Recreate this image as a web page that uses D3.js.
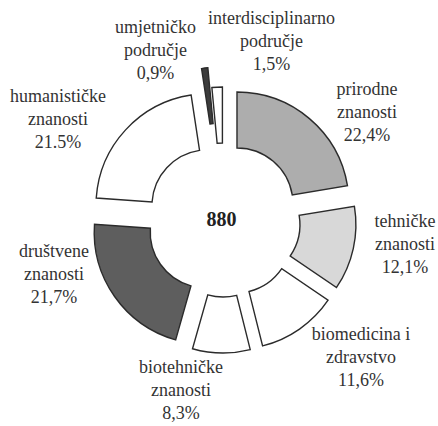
<!DOCTYPE html>
<html><head><meta charset="utf-8">
<script src="https://cdn.jsdelivr.net/npm/d3@7/dist/d3.min.js"></script></head>
<body style="margin:0">
<svg id="s" width="438" height="426"></svg>
<script>
// Fields of science, share of total (%), clockwise from 12 o'clock
const categories = [
  "prirodne znanosti",
  "tehničke znanosti",
  "biomedicina i zdravstvo",
  "biotehničke znanosti",
  "društvene znanosti",
  "humanističke znanosti",
  "umjetničko područje",
  "interdisciplinarno područje"
];
const labelLines = [
  ["prirodne", "znanosti"],
  ["tehničke", "znanosti"],
  ["biomedicina i", "zdravstvo"],
  ["biotehničke", "znanosti"],
  ["društvene", "znanosti"],
  ["humanističke", "znanosti"],
  ["umjetničko", "područje"],
  ["interdisciplinarno", "područje"]
];
const values = [22.4, 12.1, 11.6, 8.3, 21.7, 21.5, 0.9, 1.5];
const valueLabels = ["22,4%", "12,1%", "11,6%", "8,3%", "21,7%", "21.5%", "0,9%", "1,5%"];
const total = 880;

// ---- layout ----
const cx = 223.4, cy = 220;
const outerR = 112, innerR = 56;
const fills = ["#adadad", "#d8d8d8", "#ffffff", "#ffffff", "#5e5e5e", "#ffffff", "#3c3c3c", "#ffffff"];
const explode = [21, 21, 21, 21, 21, 21, 41, 21];
// label block anchors (x centre, baseline of middle line) relative to the centre
const labelAnchor = [
  [143.6, -102], [181.6, 30], [137.6, 143], [-42.4, 176],
  [-169.4, 60], [-165.4, -95], [-67.9, -164], [48.1, -173]
];
const lineGap = 22.6;

const s = d3.select("#s");

const pie = d3.pie().sort(null).value(d => d.value).startAngle(0).endAngle(2 * Math.PI);
const arc = d3.arc().innerRadius(innerR).outerRadius(outerR);
const color = d3.scaleOrdinal().domain(categories).range(fills);

const data = categories.map((c, i) => ({ name: c, value: values[i], idx: i }));
const arcs = pie(data);

s.selectAll("path")
  .data(arcs)
  .join("path")
  .attr("d", arc)
  .attr("transform", d => {
    const a = (d.startAngle + d.endAngle) / 2;
    const k = explode[d.data.idx];
    return `translate(${cx + k * Math.sin(a)},${cy - k * Math.cos(a)})`;
  })
  .attr("fill", d => color(d.data.name))
  .attr("stroke", "#2b2b2b")
  .attr("stroke-width", 1.4);

// centred serif text: measured, then shifted left by half its width
function centredText(str, x, y, size, bold) {
  const t = s.append("text")
    .attr("x", x)
    .attr("y", y)
    .attr("font-size", size)
    .style("font-family", `"Liberation Serif"`);
  if (bold) t.style("font-weight", "bold");
  t.text(str);
  const w = t.node().getComputedTextLength();
  t.attr("x", x - w / 2);
  return t;
}

// category labels: two name lines and the share
arcs.forEach(d => {
  const i = d.data.idx;
  const lines = labelLines[i].concat([valueLabels[i]]);
  lines.forEach((str, j) => {
    centredText(str, cx + labelAnchor[i][0], cy + labelAnchor[i][1] + (j - 1) * lineGap, 18, false)
      .style("fill", "#333");
  });
});

// total in the centre
centredText(String(total), cx - 2, cy + 6, 20, true).style("fill", "#222");
</script></body></html>
